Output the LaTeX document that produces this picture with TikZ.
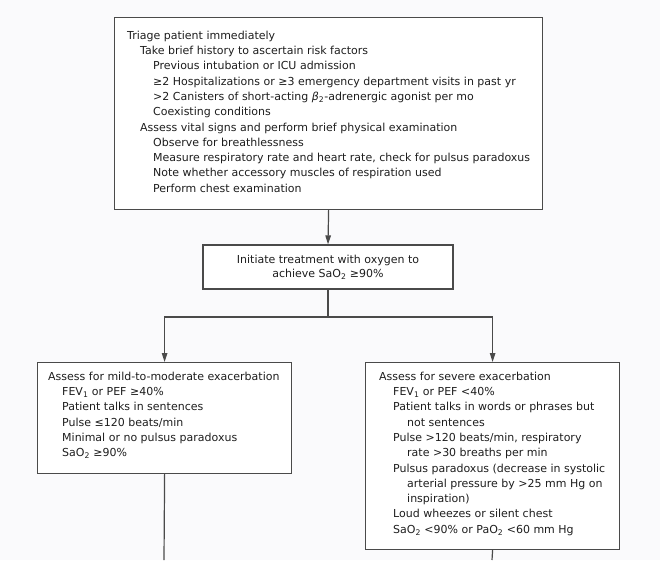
\documentclass[tikz,border=0pt]{standalone}
\usepackage{fontspec}
\setmainfont{DejaVu Sans}
\usetikzlibrary{arrows.meta}
\definecolor{linec}{HTML}{4A4A4A}
\definecolor{txt}{HTML}{1E1E1E}
\definecolor{bg}{HTML}{FAFAFC}
\newcommand{\ia}{\hspace*{13pt}}
\newcommand{\ib}{\hspace*{26pt}}
\newcommand{\ja}{\hspace*{14pt}}
\newcommand{\jb}{\hspace*{28pt}}
\begin{document}
\begin{tikzpicture}[x=1pt,y=-1pt,
  box/.style={draw=linec, line width=1.2pt, fill=white, inner sep=0pt, anchor=north west},
  txtblock/.style={anchor=north west, inner sep=0pt, align=left, text=txt,
    font=\fontsize{11}{15.3}\selectfont},
  conn/.style={draw=linec, line width=1.2pt},
  arr/.style={conn, -{Triangle[length=9pt,width=5.5pt]}}]
\fill[bg] (0,0) rectangle (660,560);
\useasboundingbox (0,0) rectangle (660,560);

% boxes
\node[box, minimum width=428pt, minimum height=192pt] (top) at (114,17) {};
\node[draw=linec, line width=1.2pt, fill=white, minimum width=250pt, minimum height=44pt,
  align=center, text=txt, inner sep=0pt, font=\fontsize{11}{14}\selectfont] (mid) at (328,267)
  {Initiate treatment with oxygen to\\achieve SaO\textsubscript{2} ≥90\%};
\node[box, minimum width=254pt, minimum height=111pt] (left) at (37,362) {};
\node[box, minimum width=254pt, minimum height=187pt] (right) at (365,362) {};

% texts
\node[txtblock] (toptext) at (127,28.3) {\strut Triage patient immediately\\
\ia Take brief history to ascertain risk factors\\
\ib Previous intubation or ICU admission\\
\ib ≥2 Hospitalizations or ≥3 emergency department visits in past yr\\
\ib >2 Canisters of short-acting {\itshape β}\textsubscript{2}-adrenergic agonist per mo\\
\ib Coexisting conditions\\
\ia Assess vital signs and perform brief physical examination\\
\ib Observe for breathlessness\\
\ib Measure respiratory rate and heart rate, check for pulsus paradoxus\\
\ib Note whether accessory muscles of respiration used\\
\ib Perform chest examination};

\node[txtblock] (lefttext) at (48,369.3) {\strut Assess for mild-to-moderate exacerbation\\
\ja FEV\textsubscript{1} or PEF ≥40\%\\
\ja Patient talks in sentences\\
\ja Pulse ≤120 beats/min\\
\ja Minimal or no pulsus paradoxus\\
\ja SaO\textsubscript{2} ≥90\%};

\node[txtblock] (righttext) at (379,369.3) {\strut Assess for severe exacerbation\\
\ja FEV\textsubscript{1} or PEF <40\%\\
\ja Patient talks in words or phrases but\\
\jb not sentences\\
\ja Pulse >120 beats/min, respiratory\\
\jb rate >30 breaths per min\\
\ja Pulsus paradoxus (decrease in systolic\\
\jb arterial pressure by >25 mm Hg on\\
\jb inspiration)\\
\ja Loud wheezes or silent chest\\
\ja SaO\textsubscript{2} <90\% or PaO\textsubscript{2} <60 mm Hg};

% connectors
\coordinate (split) at (328,317);
\coordinate (lend) at (164,560);
\coordinate (rend) at (492,560);
\draw[arr] (top.south) -- (mid.north);
\draw[conn] (mid.south) -- (split);
\draw[arr] (split) -| (left.north);
\draw[arr] (split) -| (right.north);
\draw[conn] (left.south) -- (lend);
\draw[conn] (right.south) -- (rend);
\end{tikzpicture}
\end{document}
